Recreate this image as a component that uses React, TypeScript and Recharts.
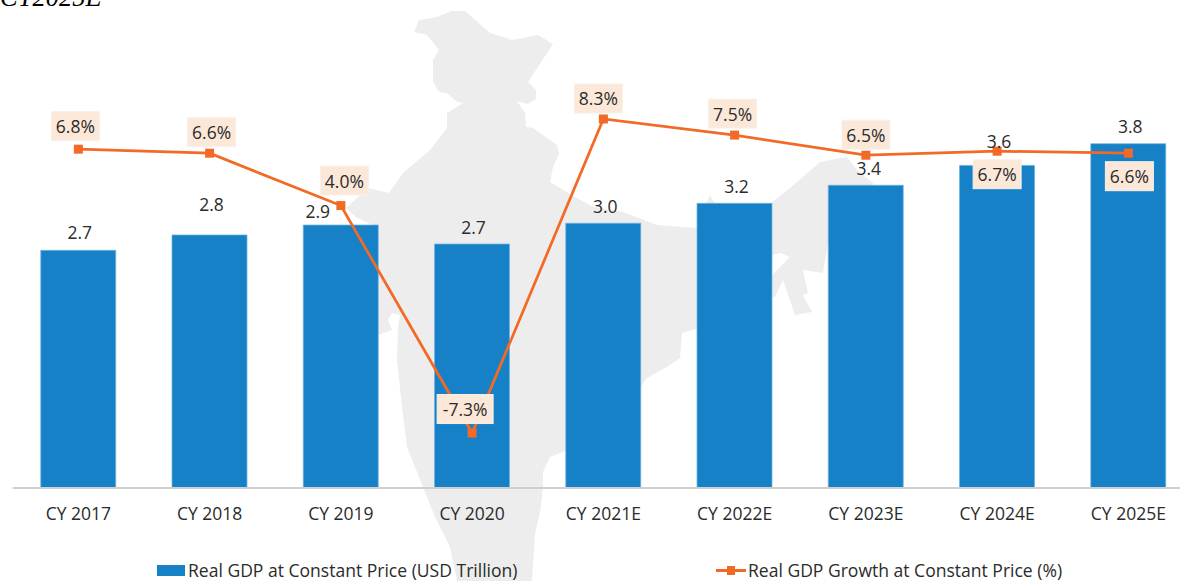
import React from "react";
import { Bar, ComposedChart, LabelList, Legend, Line, XAxis, YAxis } from "recharts";

const years = ["CY 2017", "CY 2018", "CY 2019", "CY 2020", "CY 2021E", "CY 2022E", "CY 2023E", "CY 2024E", "CY 2025E"];
const gdpValues = [2.63, 2.8, 2.91, 2.7, 2.93, 3.15, 3.35, 3.57, 3.81];
const gdpLabels = ["2.7", "2.8", "2.9", "2.7", "3.0", "3.2", "3.4", "3.6", "3.8"];
const growthValues = [6.8, 6.6, 4.0, -7.3, 8.3, 7.5, 6.5, 6.7, 6.6];

const data = years.map((year, i) => ({ year, gdp: gdpValues[i], growth: growthValues[i] }));

// hand placed label nudges, the source chart moved these around by hand too
const gdpLabelNudge = [[1.5, -18], [2, -31], [-23, -14], [1.5, -17], [2, -17], [2, -17], [3, -17], [2, -24], [2, -18]];
const growthLabelNudge = [[-3, -23], [2, -21], [3.5, -25], [-7, -24], [-5, -20.5], [-2, -21.5], [0, -20.5], [0, 23], [1, 23]];

const FONT = "'Open Sans', sans-serif";
const TEXT = "#2b2b2b";
const BLUE = "#1681C6";
const ORANGE = "#F26A25";

// silhouette behind the chart
const MAP_PATH =
  "M419,20 L437,17 452,11 465,11 490,33 512,40 538,35 553,44 528,82 536,90 536,99 528,104 517,101 525,113 526,127 533,128 " +
  "557,145 559,154 553,167 550,182 577,198 593,207 623,212 657,225 697,228 703,210 710,195 716,205 760,210 772,202 790,188 " +
  "820,162 847,157 857,170 873,183 873,240 828,243 823,273 803,270 808,293 803,295 812,312 795,315 783,280 775,297 760,300 " +
  "697,329 682,333 680,358 667,367 647,378 642,385 600,440 566,451 550,457 543,472 543,488 540,513 535,533 532,581 457,581 " +
  "450,547 435,517 423,487 407,447 402,407 397,360 398,327 400,315 392,313 388,320 392,330 378,335 360,300 372,225 356,217 " +
  "346,208 368,188 389,193 403,173 430,150 447,128 447,113 463,103 457,102 447,93 439,92 433,82 433,60 439,50 427,35 414,32 Z " +
  "M762,258 L772,255 780,253 790,257 772,275 762,282 Z";

const GdpLabel = (props: any) => {
  const { x, y, width, index } = props;
  const [dx, dy] = gdpLabelNudge[index];
  return (
    <text x={x + width / 2 + dx} y={y + dy} textAnchor="middle" dominantBaseline="central" fontFamily={FONT} fontSize={17.5} fill={TEXT}>
      {gdpLabels[index]}
    </text>
  );
};

const GrowthLabel = (props: any) => {
  const { x, y, value, index } = props;
  const [dx, dy] = growthLabelNudge[index];
  const text = `${value.toFixed(1)}%`;
  const w = value < 0 ? 56 : 48;
  const cx = x + dx;
  const cy = y + dy;
  return (
    <g>
      <rect x={cx - w / 2} y={cy - 14.5} width={w} height={29} fill="#FBE8D9" stroke="#F8F1EA" />
      <text x={cx} y={cy} textAnchor="middle" dominantBaseline="central" fontFamily={FONT} fontSize={17.5} fill={TEXT}>
        {text}
      </text>
    </g>
  );
};

const SquareDot = (props: any) => {
  const { cx, cy, index } = props;
  return <rect key={index} x={cx - 4.5} y={cy - 4.5} width={9} height={9} fill={ORANGE} />;
};

const LegendContent = (props: any) => {
  const items = props.payload || [];
  return (
    <div style={{ position: "relative", width: 1180, height: 581, fontFamily: FONT, fontSize: 17.55, color: TEXT }}>
      {items.map((item: any) => {
        const isBar = item.dataKey === "gdp";
        return (
          <React.Fragment key={item.dataKey}>
            {isBar ? (
              <div style={{ position: "absolute", left: 157, top: 565, width: 28, height: 11, background: BLUE }} />
            ) : (
              <>
                <div style={{ position: "absolute", left: 716, top: 569, width: 30, height: 3, background: ORANGE }} />
                <div style={{ position: "absolute", left: 727, top: 566, width: 8, height: 9, background: ORANGE }} />
              </>
            )}
            <span style={{ position: "absolute", left: isBar ? 188 : 748, top: 559, lineHeight: "23px", whiteSpace: "nowrap" }}>
              {item.value}
            </span>
          </React.Fragment>
        );
      })}
    </div>
  );
};

export default function App() {
  return (
    <div style={{ position: "absolute", left: 0, top: 0, width: 1180, height: 581, overflow: "hidden", background: "#fff" }}>
      <svg width={1180} height={581} style={{ position: "absolute", left: 0, top: 0 }}>
        <path d={MAP_PATH} fill="#EDEDED" fillRule="evenodd" />
      </svg>
      <div
        style={{
          position: "absolute",
          left: 0,
          top: -18,
          lineHeight: "30px",
          fontFamily: "'Liberation Serif', serif",
          fontStyle: "italic",
          fontSize: 26.5,
          color: "#000",
        }}
      >
        CY2025E
      </div>
      <div style={{ position: "absolute", left: 0, top: 0 }}>
        <ComposedChart width={1194} height={581} data={data} margin={{ top: 0, left: 12.75, right: 0, bottom: 63 }}>
          <XAxis
            dataKey="year"
            height={30}
            interval={0}
            tickLine={false}
            axisLine={{ stroke: "#CFCFCF", strokeWidth: 2 }}
            tick={{ fontFamily: FONT, fontSize: 17.5, fill: TEXT }}
            tickMargin={14}
          />
          <YAxis yAxisId="gdp" hide domain={[0, 5.4]} />
          <YAxis yAxisId="growth" hide orientation="right" domain={[-10.03, 14.21]} />
          <Bar
            yAxisId="gdp"
            dataKey="gdp"
            name="Real GDP at Constant Price (USD Trillion)"
            fill={BLUE}
            stroke="#6FB4E0"
            strokeWidth={0.75}
            barSize={75}
            isAnimationActive={false}
          >
            <LabelList dataKey="gdp" content={GdpLabel} />
          </Bar>
          <Line
            yAxisId="growth"
            dataKey="growth"
            name="Real GDP Growth at Constant Price (%)"
            stroke={ORANGE}
            strokeWidth={2.75}
            type="linear"
            dot={SquareDot}
            activeDot={false}
            isAnimationActive={false}
          >
            <LabelList dataKey="growth" content={GrowthLabel} />
          </Line>
          <Legend
            layout="horizontal"
            verticalAlign="middle"
            align="center"
            content={LegendContent}
            wrapperStyle={{ left: 0, top: 0, width: 1180, height: 581, margin: 0 }}
          />
        </ComposedChart>
      </div>
    </div>
  );
}
